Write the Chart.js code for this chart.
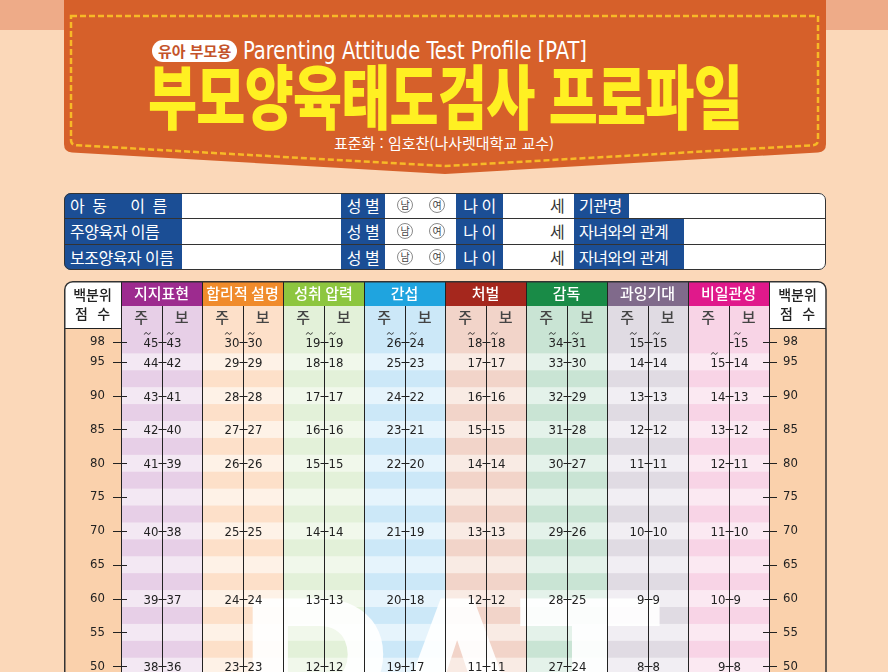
<!DOCTYPE html>
<html lang="ko">
<head>
<meta charset="utf-8">
<title>부모양육태도검사 프로파일</title>
<script src="https://cdn.jsdelivr.net/npm/chart.js@4.4.1/dist/chart.umd.min.js"></script>
<style>
  html, body { margin: 0; padding: 0; width: 888px; height: 672px; overflow: hidden; background: #fbd8b9; font-family: "Noto Sans CJK KR", sans-serif; }
  #topband { position: absolute; left: 0; top: 0; width: 888px; height: 30px; background: #eeab88; }
  #banner { position: absolute; left: 0; top: 0; }
  .fit { position: absolute; white-space: nowrap; transform-origin: left center; }
  #badge { left: 152px; top: 40px; height: 22px; line-height: 22px; padding: 0 6px; border-radius: 11px; background: #fff; color: #c4532a; font-size: 15px; font-weight: 700; }
  #eng { left: 243px; top: 37px; font-family: "Liberation Sans Narrow", "DejaVu Sans Condensed", sans-serif; font-size: 25px; line-height: 28px; color: #fff; }
  #title { left: 148px; top: 58px; font-size: 70px; line-height: 72px; font-weight: 900; color: #fff022; letter-spacing: -1px; }
  #std { left: 0; width: 888px; text-align: center; top: 133px; font-size: 15px; line-height: 20px; color: #fff; position: absolute; }
  #info, #infoLine { position: absolute; left: 64px; top: 193px; width: 762px; height: 77px; border-radius: 7px; }
  #info { background: #fff; overflow: hidden; }
  #infoLine { border: 1.5px solid #333; box-sizing: border-box; }
  .cell { position: absolute; height: 25px; line-height: 25px; font-size: 16px; }
  .lab { background: #1b4e95; color: #fff; white-space: pre; letter-spacing: -0.5px; }
  .hline { position: absolute; left: 0; width: 762px; height: 1px; background: #333; }
  .circ { position: absolute; width: 16px; height: 16px; border: 1px solid #8a8a8a; border-radius: 50%; font-size: 10px; line-height: 14px; text-align: center; color: #444; box-sizing: border-box; top: 4px; }
  #sheet { position: absolute; left: 64px; top: 281px; }
</style>
</head>
<body>
<div id="topband"></div>
<svg id="banner" width="888" height="190">
  <path d="M64,0 H826 V144 Q826,152 818,152.5 L445,174 L72,152.5 Q64,152 64,144 Z" fill="#d6602a"/>
  <path d="M71,16 H818 V140 Q818,145 813,145.3 L445,166 L77,145.3 Q71,145 71,140 Z" fill="none" stroke="#f7b927" stroke-width="2.5" stroke-dasharray="6 3"/>
</svg>
<div id="badge" class="fit">유아 부모용</div>
<div id="eng" class="fit">Parenting Attitude Test Profile [PAT]</div>
<div id="title" class="fit">부모양육태도검사 프로파일</div>
<div id="std">표준화 : 임호찬(나사렛대학교 교수)</div>

<div id="info"></div>
<div id="infoLine"></div>

<canvas id="sheet" width="763" height="427"></canvas>

<script>
// 척도 이름과 백분위
const scaleNames = ["지지표현", "합리적 설명", "성취 압력", "간섭", "처벌", "감독", "과잉기대", "비일관성"];
const raterLabels = ["주", "보"];
const percentileTicks = [98, 95, 90, 85, 80, 75, 70, 65, 60, 55, 50];
const scoreRows = [98, 95, 90, 85, 80, 70, 60, 50];

// 원점수 (주양육자 / 보조양육자), scoreRows 순서
const supportMain = [45, 44, 43, 42, 41, 40, 39, 38];
const supportSub = [43, 42, 41, 40, 39, 38, 37, 36];
const reasoningMain = [30, 29, 28, 27, 26, 25, 24, 23];
const reasoningSub = [30, 29, 28, 27, 26, 25, 24, 23];
const achievementMain = [19, 18, 17, 16, 15, 14, 13, 12];
const achievementSub = [19, 18, 17, 16, 15, 14, 13, 12];
const intrusionMain = [26, 25, 24, 23, 22, 21, 20, 19];
const intrusionSub = [24, 23, 22, 21, 20, 19, 18, 17];
const punishmentMain = [18, 17, 16, 15, 14, 13, 12, 11];
const punishmentSub = [18, 17, 16, 15, 14, 13, 12, 11];
const monitoringMain = [34, 33, 32, 31, 30, 29, 28, 27];
const monitoringSub = [31, 30, 29, 28, 27, 26, 25, 24];
const expectationMain = [15, 14, 13, 12, 11, 10, 9, 8];
const expectationSub = [15, 14, 13, 12, 11, 10, 9, 8];
const inconsistencyMain = [null, 15, 14, 13, 12, 11, 10, 9];
const inconsistencySub = [15, 14, 13, 12, 11, 10, 9, 8];

const mainScores = [supportMain, reasoningMain, achievementMain, intrusionMain, punishmentMain, monitoringMain, expectationMain, inconsistencyMain];
const subScores = [supportSub, reasoningSub, achievementSub, intrusionSub, punishmentSub, monitoringSub, expectationSub, inconsistencySub];

const headColors = ["#9d2b8f", "#f08b2b", "#8dc63f", "#1fa4df", "#a5271d", "#198b47", "#806a8b", "#e0198b"];
const darkStripe = ["#e7cfe7", "#fde0c9", "#e3f1d9", "#cce8f8", "#f2d4c9", "#c9e4d4", "#e0dbe3", "#f8d4e6"];
const lightStripe = ["#f3e8f3", "#fef2e7", "#f1f8eb", "#e6f4fc", "#f9ebe4", "#e4f2ea", "#f1eef3", "#fbe9f2"];

const numFamily = "'Liberation Sans Narrow', 'DejaVu Sans Condensed', sans-serif";
const korFont = "'Noto Sans CJK KR', sans-serif";

// 위쪽 배너 글자 폭 맞추기
function fitWidth(id, w) {
  const el = document.getElementById(id);
  const r = el.getBoundingClientRect().width;
  el.style.transform = "scaleX(" + (w / r) + ")";
}
fitWidth("eng", 344);
fitWidth("title", 594);

// 인적사항 표
const info = document.getElementById("info");
const infoRows = [
  ["아  동      이  름", "기관명", 55],
  ["주양육자 이름", "자녀와의 관계", 110],
  ["보조양육자 이름", "자녀와의 관계", 110],
];
infoRows.forEach((r, i) => {
  const top = i * 26;
  info.insertAdjacentHTML("beforeend",
    `<div class="cell lab" style="left:0;top:${top}px;width:118px;padding-left:6px;box-sizing:border-box">${r[0]}</div>` +
    `<div class="cell lab" style="left:277px;top:${top}px;width:44px;text-align:center">성 별</div>` +
    `<div style="position:absolute;left:0;top:${top}px">` +
      `<div class="circ" style="left:333px">남</div><div class="circ" style="left:365px">여</div></div>` +
    `<div class="cell lab" style="left:392px;top:${top}px;width:47px;text-align:center">나 이</div>` +
    `<div class="cell" style="left:486px;top:${top}px;color:#333">세</div>` +
    `<div class="cell lab" style="left:510px;top:${top}px;width:${r[2]}px;padding-left:5px;box-sizing:border-box">${r[1]}</div>`);
  if (i > 0) info.insertAdjacentHTML("beforeend", `<div class="hline" style="top:${top - 1}px"></div>`);
});

// 프로파일 표 배경/선/글자
const sheetPlugin = {
  id: "sheet",
  beforeDraw(chart) {
    const { ctx, chartArea: a, scales: { x, y } } = chart;
    const H = chart.height, R = chart.width - 1;
    const cw = x.getPixelForValue(1) - x.getPixelForValue(0);
    const headMid = 25, headBot = a.top;
    ctx.save();
    ctx.beginPath();
    ctx.roundRect(0.75, 0.75, R - 0.75, H + 20, [8, 8, 0, 0]);
    ctx.clip();

    ctx.fillStyle = "#fad1ac";
    ctx.fillRect(0, headBot, a.left, H);
    ctx.fillRect(a.right, headBot, R - a.right, H);
    ctx.fillStyle = "#fff";
    ctx.fillRect(0, 0, a.left, headBot);
    ctx.fillRect(a.right, 0, R - a.right, headBot);

    scaleNames.forEach((name, k) => {
      const L = x.getPixelForValue(k) - cw / 2;
      ctx.fillStyle = headColors[k];
      ctx.fillRect(L, 0, cw, headMid);
      ctx.fillStyle = darkStripe[k];
      ctx.fillRect(L, headMid, cw, H);
      ctx.fillStyle = lightStripe[k];
      percentileTicks.filter(p => p % 5 === 0).concat([45]).forEach(p => {
        const t = y.getPixelForValue(p + 1.25), b = y.getPixelForValue(p - 1.25);
        ctx.fillRect(L, t, cw, b - t);
      });
    });

    // 배경 PAT 글자
    ctx.fillStyle = "rgba(255,255,255,0.92)";
    ctx.font = "bold 240px Roboto, 'DejaVu Sans', sans-serif";
    ctx.textAlign = "left";
    ctx.textBaseline = "alphabetic";
    const capTop = 317;
    [["P", 254], ["A", 393], ["T", 526]].forEach(([ch, cx]) => {
      const m = ctx.measureText(ch);
      ctx.fillText(ch, cx - (m.actualBoundingBoxRight - m.actualBoundingBoxLeft) / 2, capTop + m.actualBoundingBoxAscent);
    });

    // 세로선
    ctx.strokeStyle = "#222";
    ctx.lineWidth = 1;
    ctx.beginPath();
    for (let k = 0; k <= scaleNames.length; k++) {
      const px = Math.round(x.getPixelForValue(k) - cw / 2) + 0.5;
      ctx.moveTo(px, 0); ctx.lineTo(px, H);
    }
    scaleNames.forEach((n, k) => {
      const px = Math.round(x.getPixelForValue(k)) + 0.5;
      ctx.moveTo(px, headMid); ctx.lineTo(px, H);
    });
    ctx.moveTo(0, headBot + 0.5); ctx.lineTo(a.left, headBot + 0.5);
    ctx.moveTo(a.right, headBot + 0.5); ctx.lineTo(R, headBot + 0.5);
    ctx.stroke();
    ctx.restore();

    // 바깥 테두리
    ctx.save();
    ctx.strokeStyle = "#333";
    ctx.lineWidth = 1.5;
    ctx.beginPath();
    ctx.roundRect(0.75, 0.75, R - 0.75, H + 20, [8, 8, 0, 0]);
    ctx.stroke();

    // 머리글
    ctx.textAlign = "center";
    ctx.textBaseline = "middle";
    ctx.fillStyle = "#222";
    ctx.font = "500 14px " + korFont;
    [a.left / 2, (a.right + R) / 2].forEach(cx => {
      ctx.fillText("백분위", cx, 14);
      ctx.fillText("점   수", cx, 33);
    });
    scaleNames.forEach((name, k) => {
      const cx = x.getPixelForValue(k);
      ctx.fillStyle = "#fff";
      ctx.font = "500 15px " + korFont;
      ctx.fillText(name, cx, 12.5);
      ctx.fillStyle = "#444";
      ctx.fillText(raterLabels[0], cx - cw / 4, 36);
      ctx.fillText(raterLabels[1], cx + cw / 4, 36);
    });
    ctx.restore();
  },
  afterDatasetsDraw(chart) {
    const { ctx, chartArea: a, scales: { y } } = chart;
    ctx.save();
    ctx.strokeStyle = "#222";
    ctx.lineWidth = 1;
    ctx.beginPath();
    percentileTicks.forEach(p => {
      const py = Math.round(y.getPixelForValue(p)) + 0.5;
      ctx.moveTo(a.left - 8, py); ctx.lineTo(a.left + 6, py);
      ctx.moveTo(a.right - 6, py); ctx.lineTo(a.right + 8, py);
    });
    ctx.stroke();

    ctx.font = "13px " + numFamily;
    ctx.fillStyle = "#222";
    ctx.textBaseline = "alphabetic";
    chart.data.datasets.forEach((ds, d) => {
      const meta = chart.getDatasetMeta(d);
      meta.data.forEach((pt, j) => {
        const raw = ds.data[j];
        const txt = String(raw.score);
        const px = Math.round(pt.x) + 0.5, py = Math.round(pt.y) + 0.5;
        const w = ctx.measureText(txt).width;
        const left = d === 0 ? px - 4 - w : px + 4;
        ctx.beginPath();
        ctx.moveTo(px, py); ctx.lineTo(d === 0 ? px - 4 : px + 4, py);
        ctx.stroke();
        ctx.fillText(txt, left, py + 4.5);
        if (raw.top) {
          const cx = left + ctx.measureText(txt[0]).width / 2, ty = py - 9;
          ctx.beginPath();
          ctx.moveTo(cx - 3, ty + 1);
          ctx.bezierCurveTo(cx - 2, ty - 1.5, cx - 0.5, ty - 1, cx, ty);
          ctx.bezierCurveTo(cx + 0.5, ty + 1, cx + 2, ty + 1.5, cx + 3, ty - 1);
          ctx.stroke();
        }
      });
    });
    ctx.restore();
  }
};

function buildPoints(series) {
  const pts = [];
  series.forEach((vals, k) => {
    const first = vals.findIndex(v => v != null);
    vals.forEach((v, i) => {
      if (v == null) return;
      pts.push({ x: scaleNames[k], y: scoreRows[i], score: v, top: i === first });
    });
  });
  return pts;
}

// 눈금 글자: padding 0, 간격은 tickLength 로 (세로축 여백 계산에 padding 이 더해지므로)
const percentAxis = (pos, width, gap) => ({
  position: pos, min: 45, max: 100,
  afterFit: s => { s.width = width; },
  afterBuildTicks: s => { s.ticks = percentileTicks.map(v => ({ value: v })); },
  grid: { display: false, drawTicks: true, tickLength: gap },
  border: { display: false },
  ticks: { padding: 0, color: "#222", autoSkip: false, font: { family: numFamily, size: 13, lineHeight: 1 } }
});

new Chart(document.getElementById("sheet"), {
  type: "line",
  data: {
    labels: scaleNames,
    datasets: [
      { label: raterLabels[0], data: buildPoints(mainScores), showLine: false, pointRadius: 0, pointHoverRadius: 0 },
      { label: raterLabels[1], data: buildPoints(subScores), showLine: false, pointRadius: 0, pointHoverRadius: 0 }
    ]
  },
  options: {
    responsive: false,
    animation: false,
    devicePixelRatio: 1,
    events: [],
    layout: { padding: { top: 47, bottom: 8, left: 0, right: 0 } },
    plugins: { legend: { display: false }, tooltip: { enabled: false } },
    scales: {
      x: { type: "category", offset: true, display: false },
      y: percentAxis("left", 57, 16),
      y2: percentAxis("right", 58, 14)
    }
  },
  plugins: [sheetPlugin]
});
</script>
</body>
</html>
